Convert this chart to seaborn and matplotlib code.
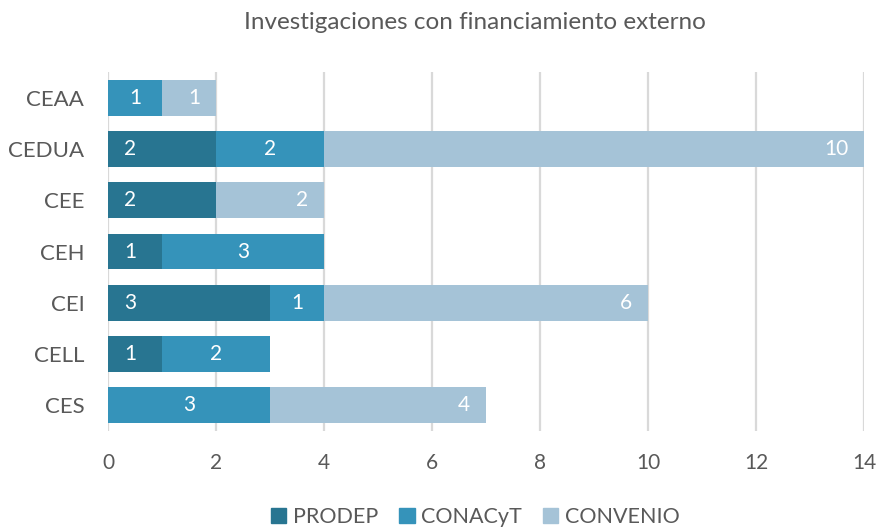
import pandas as pd
import numpy as np
import matplotlib.pyplot as plt
import seaborn as sns

# Datos del grafico
centros = ['CEAA', 'CEDUA', 'CEE', 'CEH', 'CEI', 'CELL', 'CES']
prodep = [0, 2, 2, 1, 3, 1, 0]
conacyt = [1, 2, 0, 3, 1, 2, 3]
convenio = [1, 10, 2, 0, 6, 0, 4]
ticks_x = [0, 2, 4, 6, 8, 10, 12, 14]

colores = {'PRODEP': '#287591', 'CONACyT': '#3593BA', 'CONVENIO': '#A5C3D7'}
gris = '#595959'

df = pd.DataFrame({'centro': centros, 'PRODEP': prodep,
                   'CONACyT': conacyt, 'CONVENIO': convenio})
df['c1'] = df['PRODEP']
df['c2'] = df['PRODEP'] + df['CONACyT']
df['c3'] = df['c2'] + df['CONVENIO']

sns.set_style('white')
plt.rcParams['font.family'] = ['Lato', 'DejaVu Sans']

fig = plt.figure(figsize=(8.77, 5.29), dpi=100)
ax = fig.add_axes([0.1231, 0.186, 0.862, 0.677])

# barras apiladas: se dibuja el total y encima los acumulados parciales
for col, serie in [('c3', 'CONVENIO'), ('c2', 'CONACyT'), ('c1', 'PRODEP')]:
    sns.barplot(data=df, x=col, y='centro', orient='h', color=colores[serie],
                width=0.7, saturation=1, linewidth=0, ax=ax, label=serie, zorder=3)

# etiquetas de datos
fs = 15
for i, r in df.iterrows():
    if r['PRODEP'] > 0:
        ax.text(0.41, i, str(r['PRODEP']), color='white', fontsize=fs,
                ha='center', va='center', zorder=5)
    if r['CONACyT'] > 0:
        ax.text(r['c1'] + r['CONACyT'] / 2, i, str(r['CONACyT']), color='white',
                fontsize=fs, ha='center', va='center', zorder=5)
    if r['CONVENIO'] > 0:
        ax.text(r['c3'] - 0.29, i, str(r['CONVENIO']), color='white', fontsize=fs,
                ha='right', va='center', zorder=5)

ax.set_xlim(0, 14)
ax.set_ylim(6.5, -0.5)
ax.set_xticks(ticks_x)
ax.set_xticklabels([str(t) for t in ticks_x])
ax.xaxis.grid(True, color='#D9D9D9', linewidth=1.6, zorder=0)
ax.yaxis.grid(False)
ax.set_axisbelow(True)
for s in ax.spines.values():
    s.set_visible(False)
ax.tick_params(axis='both', length=0, labelsize=15, colors=gris)
ax.tick_params(axis='y', pad=17, labelsize=16)
ax.tick_params(axis='x', pad=16)
ax.set_xlabel('')
ax.set_ylabel('')

fig.text(0.542, 0.958, 'Investigaciones con financiamiento externo',
         ha='center', va='center', fontsize=17.5, color=gris)

handles = [plt.Rectangle((0, 0), 1, 1, color=colores[k]) for k in ['PRODEP', 'CONACyT', 'CONVENIO']]
if ax.get_legend() is not None:
    ax.get_legend().remove()
fig.legend(handles, ['PRODEP', 'CONACyT', 'CONVENIO'], loc='center',
           bbox_to_anchor=(0.542, 0.022), ncol=3, frameon=False, fontsize=15.5,
           handlelength=0.7, handleheight=0.7, handletextpad=0.3, columnspacing=1.0,
           labelcolor=gris)

plt.savefig('out.png', dpi=100)
plt.close('all')
